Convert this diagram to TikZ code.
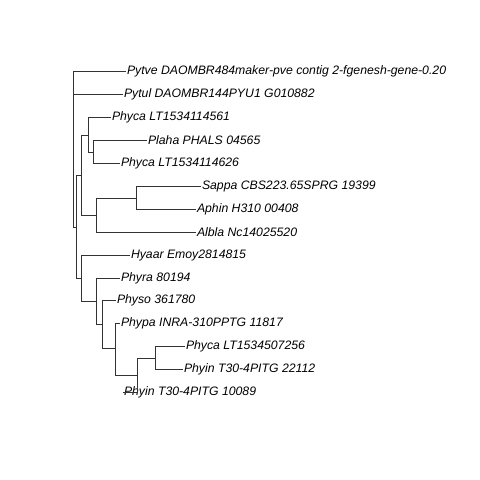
\documentclass[tikz,border=0pt]{standalone}
\usepackage{fontspec}
\setmainfont{Liberation Sans}
\begin{document}
\begin{tikzpicture}[x=1pt, y=-1pt,
    tiplab/.style={anchor=west, inner sep=0.8pt, font=\fontsize{12.25}{14}\selectfont\itshape},
    branch/.style={draw=black!80, line width=0.6pt},
]
\useasboundingbox (0,0) rectangle (480,480);

% tip labels
\node[tiplab] (pytve)  at (126,71.5)  {Pytve DAOMBR484maker-pve contig 2-fgenesh-gene-0.20};
\node[tiplab] (pytul)  at (123,94.5)  {Pytul DAOMBR144PYU1 G010882};
\node[tiplab] (phycaA) at (111,117.5) {Phyca LT1534114561};
\node[tiplab] (plaha)  at (147,140.5) {Plaha PHALS 04565};
\node[tiplab] (phycaB) at (120,163.5) {Phyca LT1534114626};
\node[tiplab] (sappa)  at (201,186.5) {Sappa CBS223.65SPRG 19399};
\node[tiplab] (aphin)  at (196,209.5) {Aphin H310 00408};
\node[tiplab] (albla)  at (196,232.5) {Albla Nc14025520};
\node[tiplab] (hyaar)  at (130,255.5) {Hyaar Emoy2814815};
\node[tiplab] (phyra)  at (120,278.5) {Phyra 80194};
\node[tiplab] (physo)  at (116,300.5) {Physo 361780};
\node[tiplab] (phypa)  at (120,323.5) {Phypa INRA-310PPTG 11817};
\node[tiplab] (phycaC) at (185,346.5) {Phyca LT1534507256};
\node[tiplab] (phyinA) at (183,369.5) {Phyin T30-4PITG 22112};
\node[tiplab] (phyinB) at (123,392.5) {Phyin T30-4PITG 10089};

% internal nodes
\coordinate (root) at (73,94.5);
\coordinate (nA)   at (76.3,227);
\coordinate (nB)   at (81.3,175.5);
\coordinate (nBa)  at (88.7,135);
\coordinate (nBb)  at (93,152);
\coordinate (nBc)  at (96.5,215.5);
\coordinate (nBd)  at (136,198);
\coordinate (nC)   at (81.7,278.5);
\coordinate (nCa)  at (96.7,301.5);
\coordinate (nCb)  at (102.5,324.5);
\coordinate (nCc)  at (115.7,348.5);
\coordinate (nCd)  at (137.5,375.5);
\coordinate (nCe)  at (155,358);

\foreach \p/\c in {root/pytve, root/pytul, root/nA,
                   nA/nB, nA/nC,
                   nB/nBa, nB/nBc, nBa/phycaA, nBa/nBb, nBb/plaha, nBb/phycaB,
                   nBc/nBd, nBc/albla, nBd/sappa, nBd/aphin,
                   nC/hyaar, nC/nCa, nCa/phyra, nCa/nCb, nCb/physo, nCb/nCc,
                   nCc/phypa, nCc/nCd, nCd/nCe, nCd/phyinB, nCe/phycaC, nCe/phyinA}
  \draw[branch] (\p) |- (\c);
\end{tikzpicture}
\end{document}
